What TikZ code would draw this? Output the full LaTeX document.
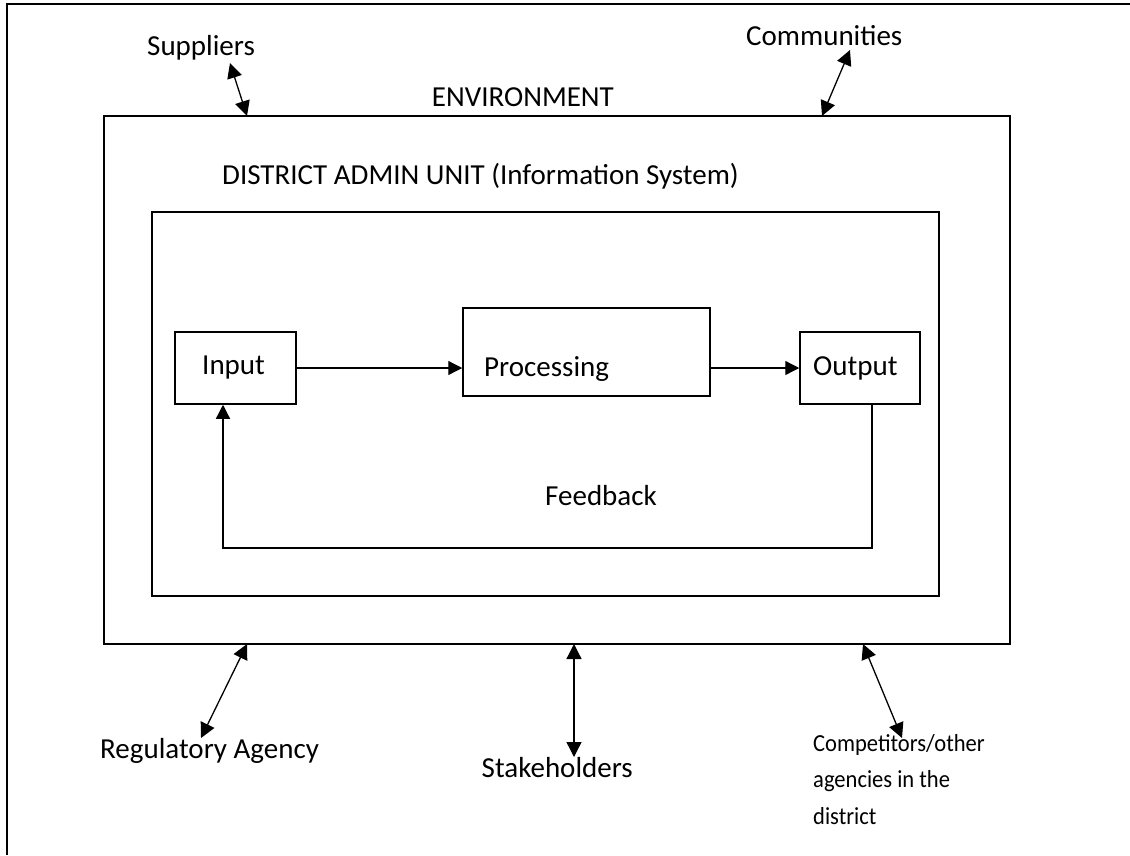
\documentclass[tikz,border=0pt]{standalone}
\usepackage{fontspec}
\setmainfont{Carlito}
\usetikzlibrary{arrows.meta}
\begin{document}
\begin{tikzpicture}[x=1pt,y=-1pt,
  box/.style={draw, line width=1.8pt, rectangle, inner sep=0pt},
  smallbox/.style={draw, line width=1.5pt, rectangle, inner sep=0pt},
  lbl/.style={inner sep=0pt, font=\fontsize{29}{35}\selectfont},
  flow/.style={line width=1.3pt, -{Triangle[length=14pt,width=14pt]}},
  link/.style={line width=1.3pt, {Triangle[length=15pt,width=15pt]}-{Triangle[length=15pt,width=15pt]}}]
\useasboundingbox (0,0) rectangle (1130,855);
% page frame
\draw[line width=1.8pt] (7,855) -- (7,4) -- (1131,4);
% boxes
\node[box, minimum width=906pt, minimum height=528pt] (env) at (557,380) {};
\node[box, minimum width=787pt, minimum height=384pt] (inner) at (545.5,404) {};
\node[smallbox, minimum width=121pt, minimum height=72pt] (in) at (235.5,368) {};
\node[smallbox, minimum width=247pt, minimum height=88pt] (proc) at (586.5,352) {};
\node[smallbox, minimum width=120pt, minimum height=72pt] (out) at (860,368) {};
% box texts
\node[lbl, anchor=base east] (envt) at (614,106) {ENVIRONMENT};
\node[lbl, anchor=base west] (dist) at (222,184) {DISTRICT ADMIN UNIT (Information System)};
\node[lbl, anchor=base west] (int) at (202,374) {Input};
\node[lbl, anchor=base west] (proct) at (484,376) {Processing};
\node[lbl, anchor=base west] (outt) at (813,375) {Output};
\node[lbl, anchor=base] (fbt) at (601,505) {Feedback};
% flow arrows
\draw[flow] (in.east) -- (proc.west |- in.east);
\draw[flow] (proc.east |- out.west) -- (out.west);
\coordinate (fb1) at (872,548);
\coordinate (fb2) at (223,548);
\draw[flow] (out.south -| fb1) -- (fb1) -- (fb2) -- (in.south -| fb2);
% environment actors
\node[lbl, anchor=base west] (sup) at (147,55) {Suppliers};
\node[lbl, anchor=base west] (com) at (746,45) {Communities};
\node[lbl, anchor=base west] (reg) at (100,758) {Regulatory Agency};
\node[lbl, anchor=base east] (stk) at (633,777) {Stakeholders};
\node[inner sep=0pt, anchor=north west, align=left, font=\fontsize{24.5}{36.5}\selectfont] (cmp) at (813,734) {\scalebox{0.92}[1]{Competitors/other}\\\scalebox{0.92}[1]{agencies in the}\\\scalebox{0.92}[1]{district}};
% link endpoints
\coordinate (supA) at (230,63);   \coordinate (supB) at (247,116);
\coordinate (comA) at (850,50);   \coordinate (comB) at (822,116);
\coordinate (regA) at (247,644);  \coordinate (regB) at (201,738);
\coordinate (stkA) at (574,644);  \coordinate (stkB) at (574,757);
\coordinate (cmpA) at (863,644);  \coordinate (cmpB) at (902,738);
\draw[link] (supA) -- (supB);
\draw[link] (comA) -- (comB);
\draw[link] (regA) -- (regB);
\draw[link] (stkA) -- (stkB);
\draw[link] (cmpA) -- (cmpB);
\end{tikzpicture}
\end{document}
